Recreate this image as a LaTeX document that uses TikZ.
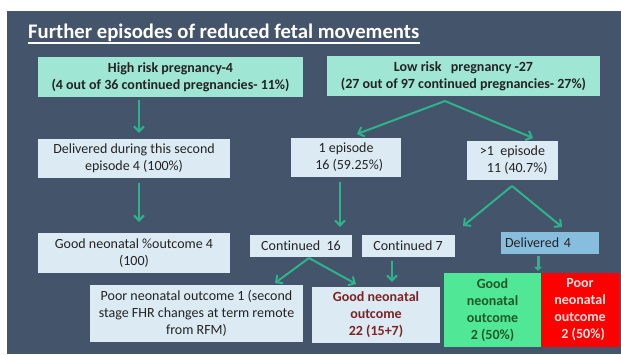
\documentclass[tikz,border=0pt]{standalone}
\usepackage{fontspec}
\setmainfont{Carlito}[Ligatures=NoCommon]
\usetikzlibrary{arrows.meta}
\definecolor{slate}{RGB}{68,84,106}
\definecolor{arrowc}{RGB}{45,180,140}
\definecolor{mint}{RGB}{160,230,212}
\definecolor{lightb}{RGB}{220,234,244}
\definecolor{deliv}{RGB}{135,190,222}
\definecolor{goodg}{RGB}{80,232,150}
\definecolor{poorr}{RGB}{255,0,0}
\definecolor{txt}{RGB}{35,35,35}
\definecolor{brownr}{RGB}{125,35,35}
\definecolor{darkg}{RGB}{30,90,40}
\definecolor{pinkw}{RGB}{255,225,225}
\begin{document}
\begin{tikzpicture}[x=1pt,y=-1pt,
  box/.style={rectangle, inner sep=0pt, align=center, text=txt,
    font=\fontsize{14}{17}\selectfont},
  bbox/.style={box, font=\fontsize{14}{17}\selectfont\bfseries},
  conn/.style={draw=arrowc, line width=2pt,
    -{Straight Barb[length=5pt,width=10pt]}}]
\useasboundingbox (0,0) rectangle (621,354);
\fill[white] (0,0) rectangle (621,354);
\fill[slate] (7,11) rectangle (621,354);
% title
\node[anchor=base west, inner sep=0pt, text=white,
  font=\fontsize{20.7}{24}\selectfont\bfseries] (title) at (28,38.5)
  {Further episodes of reduced fetal movements};
\draw[white, line width=1.1pt] ([yshift=-4.5pt]title.base west) -- ([yshift=-4.5pt]title.base east);
% boxes
\node[bbox, fill=mint, minimum width=265pt, minimum height=40pt] (b1) at (170.5,77)
  {High risk pregnancy-4\\(4 out of 36 continued pregnancies- 11\%)};
\node[bbox, fill=mint, minimum width=273pt, minimum height=40pt] (b2) at (463.5,76)
  {Low risk\ \ \ pregnancy -27\\(27 out of 97 continued pregnancies- 27\%)};
\node[box, fill=lightb, minimum width=192pt, minimum height=39pt] (b3) at (134,158.5)
  {Delivered during this second\\episode 4 (100\%)};
\node[box, fill=lightb, minimum width=192pt, minimum height=40pt] (b4) at (134,253)
  {Good neonatal \%outcome 4\\(100)};
\node[box, fill=lightb, minimum width=110pt, minimum height=39pt] (b5) at (346,157.5)
  {1 episode\\\ \ 16 (59.25\%)};
\node[box, fill=lightb, minimum width=91pt, minimum height=39pt] (b6) at (512.5,160.5)
  {>1\ \ episode\\\ \ \ 11 (40.7\%)};
\node[box, fill=lightb, minimum width=102pt, minimum height=22pt] (b7) at (301,246)
  {Continued\ \ 16};
\node[box, fill=lightb, minimum width=93pt, minimum height=22pt] (b8) at (408,246)
  {Continued 7};
\node[box, fill=deliv, minimum width=98pt, minimum height=22pt, text width=90pt, align=left] (b9) at (550,243)
  {Delivered 4};
\node[box, fill=lightb, minimum width=213pt, minimum height=57pt] (b10) at (196.5,313.5)
  {Poor neonatal outcome 1 (second\\stage FHR changes at term remote\\from RFM)};
\node[bbox, fill=lightb, text=brownr, minimum width=128pt, minimum height=56pt] (b11) at (376,315)
  {Good neonatal\\outcome\\22 (15+7)};
\node[bbox, fill=goodg, text=darkg, minimum width=97pt, minimum height=74pt] (b12) at (492.5,310)
  {Good\\neonatal\\outcome\\2 (50\%)};
\node[bbox, fill=poorr, text=pinkw, minimum width=78pt, minimum height=74pt] (b13) at (580,310)
  {Poor\\neonatal\\outcome\\\ \ 2 (50\%)};
% connector points
\coordinate (cL) at (139,0);
\coordinate (c5) at (340,0);
\coordinate (c8) at (392,0);
\coordinate (c9) at (538,0);
\coordinate (ap2) at (445,101);
\coordinate (e25) at (357,134);
\coordinate (e26) at (533,138);
\coordinate (ap6) at (512,186);
\coordinate (e68) at (463,226);
\coordinate (e69) at (562,227);
\coordinate (ap7) at (309,258);
\coordinate (e710) at (275,283);
\coordinate (e711) at (356,284);
% connectors
\draw[conn, shorten <=3pt, shorten >=6pt] (b1.south -| cL) -- (b3.north -| cL);
\draw[conn, shorten <=5pt, shorten >=11pt] (b3.south -| cL) -- (b4.north -| cL);
\draw[conn] (ap2) -- (e25);
\draw[conn] (ap2) -- (e26);
\draw[conn, shorten <=5pt, shorten >=8pt] (b5.south -| c5) -- (b7.north -| c5);
\draw[conn] (ap6) -- (e68);
\draw[conn] (ap6) -- (e69);
\draw[conn] (ap7) -- (e710);
\draw[conn] (ap7) -- (e711);
\draw[conn, shorten <=4pt, shorten >=5pt] (b8.south -| c8) -- (b11.north -| c8);
\draw[draw=arrowc, line width=3pt, -{Triangle[length=4pt,width=8pt]}, shorten <=2pt, shorten >=2pt] (b9.south -| c9) -- (b12.north -| c9);
\end{tikzpicture}
\end{document}
